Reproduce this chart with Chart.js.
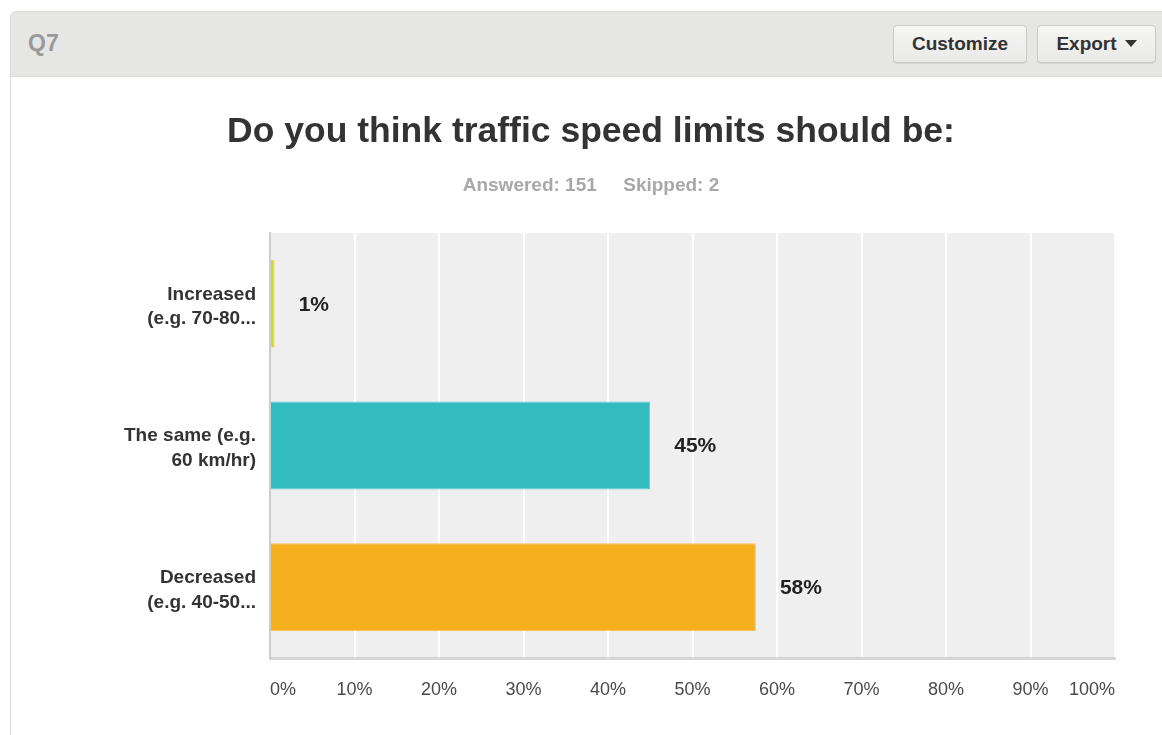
<!DOCTYPE html>
<html>
<head>
<meta charset="utf-8">
<script src="https://cdn.jsdelivr.net/npm/chart.js@4"></script>
<style>
  html, body { margin: 0; padding: 0; background: #fff; overflow: hidden; width: 1162px; height: 735px; }
  body { position: relative; font-family: 'Liberation Sans', Arial, sans-serif; }
  .head {
    position: absolute; left: 10px; top: 11px; width: 1200px; height: 64px;
    background: #e6e6e5; border: 1px solid #dcdcdc; border-radius: 6px 0 0 0;
  }
  .body {
    position: absolute; left: 10px; top: 76px; width: 1200px; height: 700px;
    border-left: 1px solid #dcdcdc;
  }
  .q { position: absolute; left: 28px; top: 30px; font-size: 23px; font-weight: bold; color: #9a9a9a; line-height: 26px; }
  .btn {
    position: absolute; top: 25px; height: 36px; line-height: 36px; text-align: center;
    border: 1px solid #c9c9c7; border-radius: 4px; font-size: 19px; font-weight: bold; color: #333;
    background: linear-gradient(#f6f6f4, #e9e9e7); box-shadow: 0 1px 1px rgba(0,0,0,0.08);
  }
  .caret { display: inline-block; width: 0; height: 0; border-left: 6px solid transparent; border-right: 6px solid transparent; border-top: 7px solid #333; vertical-align: middle; margin-left: 8px; margin-bottom: 3px; }
  #wrap { position: absolute; left: 11px; top: 77px; width: 1160px; height: 658px; }
</style>
</head>
<body>
<div class="head"></div>
<div class="body"></div>
<div class="q">Q7</div>
<div class="btn" style="left:893px; width:132px;">Customize</div>
<div class="btn" style="left:1037px; width:117px;">Export<span class="caret"></span></div>
<div id="wrap"><canvas id="chart"></canvas></div>
<script>
const categories = [
  ['Increased', '(e.g. 70-80...'],
  ['The same (e.g.', '60 km/hr)'],
  ['Decreased', '(e.g. 40-50...']
];
const values = [0.55, 45, 57.5];
const valueLabels = ['1%', '45%', '58%'];
const barColors = ['#d3d630', '#32bcbf', '#f6af1f'];
const barBorders = ['#dfe163', '#63cfd1', '#f8c35a'];
const xTickLabels = ['0%', '10%', '20%', '30%', '40%', '50%', '60%', '70%', '80%', '90%', '100%'];

const FONT = "'Liberation Sans', Arial, sans-serif";

const plotBackground = {
  id: 'plotBackground',
  beforeDraw(chart) {
    const {ctx, chartArea: a} = chart;
    ctx.save();
    ctx.fillStyle = '#efefef';
    ctx.fillRect(a.left, a.top, a.right - a.left, a.bottom - a.top);
    ctx.restore();
  }
};

const valueText = {
  id: 'valueText',
  afterDatasetsDraw(chart) {
    const {ctx} = chart;
    const meta = chart.getDatasetMeta(0);
    ctx.save();
    ctx.font = 'bold 21px ' + FONT;
    ctx.fillStyle = '#222';
    ctx.textAlign = 'left';
    ctx.textBaseline = 'middle';
    meta.data.forEach((bar, i) => {
      ctx.fillText(valueLabels[i], bar.x + 24, bar.y + 1);
    });
    ctx.restore();
  }
};

new Chart(document.getElementById('chart'), {
  type: 'bar',
  data: {
    labels: categories,
    datasets: [{
      data: values,
      backgroundColor: barColors,
      borderColor: barBorders,
      borderWidth: 1,
      categoryPercentage: 1,
      barPercentage: 0.62
    }]
  },
  options: {
    indexAxis: 'y',
    responsive: true,
    maintainAspectRatio: false,
    animation: false,
    layout: { padding: { left: 56, right: 56, top: 0, bottom: 0 } },
    plugins: {
      legend: { display: false },
      tooltip: { enabled: false },
      title: {
        display: true,
        text: 'Do you think traffic speed limits should be:',
        color: '#333',
        font: { family: FONT, size: 35.5, weight: 'bold' },
        padding: { top: 33.5, bottom: 21.5 }
      },
      subtitle: {
        display: true,
        text: 'Answered: 151     Skipped: 2',
        color: '#a8a8a8',
        font: { family: FONT, size: 19, weight: 'bold' },
        padding: { top: 0, bottom: 35.6 }
      }
    },
    scales: {
      x: {
        min: 0,
        max: 100,
        grid: { color: '#ffffff', lineWidth: 2, drawTicks: false },
        border: { color: '#d6d6d6', width: 3 },
        ticks: {
          stepSize: 10,
          align: 'inner',
          padding: 21,
          color: '#4a4a4a',
          font: { family: FONT, size: 18 },
          callback: (v, i) => xTickLabels[i]
        },
        afterFit: (scale) => { scale.height = 77; }
      },
      y: {
        grid: { display: false, drawTicks: false },
        border: { color: '#cdcdcd', width: 2 },
        ticks: {
          padding: 14,
          labelOffset: 3,
          color: '#333',
          font: { family: FONT, size: 19, weight: 'bold', lineHeight: 1.3 }
        },
        afterFit: (scale) => { scale.width = 203; }
      }
    }
  },
  plugins: [plotBackground, valueText]
});
</script>
</body>
</html>
